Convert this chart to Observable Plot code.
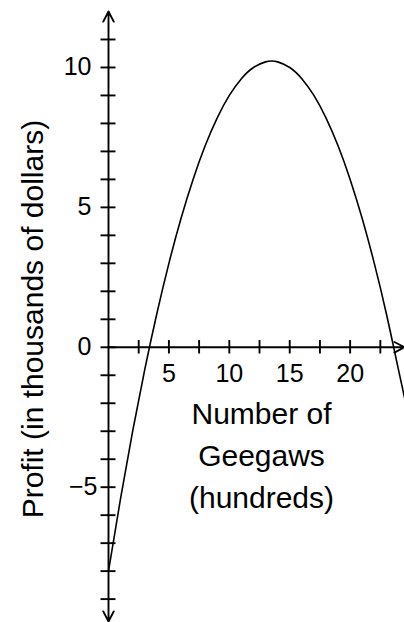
<!DOCTYPE html>
<html>
<head>
<meta charset="utf-8">
<script src="https://cdn.jsdelivr.net/npm/d3@7"></script>
<script src="https://cdn.jsdelivr.net/npm/@observablehq/plot@0.6"></script>
<style>
  html, body { margin: 0; padding: 0; background: #fff; }
  #chart svg { display: block; }
</style>
</head>
<body>
<div id="chart"></div>
<script>
// Profit (thousands of dollars) versus geegaws sold (hundreds)
const geegaws = [0, 1, 2, 3, 4, 5, 6, 7, 8, 9, 10, 11, 12, 13, 13.5, 14, 15, 16, 17, 18, 19, 20, 21, 22, 23, 24, 24.5];
const profit  = [-8.0, -5.4, -3.0, -0.8, 1.2, 3.0, 4.6, 6.0, 7.2, 8.2, 9.0, 9.6, 10.0, 10.2, 10.23, 10.2, 10.0, 9.6, 9.0, 8.2, 7.2, 6.0, 4.6, 3.0, 1.2, -0.8, -1.8];

// axis extents and tick positions
const xAxisEnd = 24.5;
const yAxisMin = -9.8;
const yAxisMax = 12;
const xTicks = [2.5, 5, 7.5, 10, 12.5, 15, 17.5, 20, 22.5];
const yTicks = [-9, -8, -7, -6, -5, -4, -3, -2, -1, 0, 1, 2, 3, 4, 5, 6, 7, 8, 9, 10, 11];
const xTickLabels = [5, 10, 15, 20];
const yTickLabels = [10, 5, 0, -5];
const xTitle = "Number of\nGeegaws\n(hundreds)";
const yTitle = "Profit (in thousands of dollars)";

const curve = geegaws.map((x, i) => ({x, y: profit[i]}));
const arrows = [
  {x1: 0, y1: 0, x2: xAxisEnd, y2: 0},
  {x1: 0, y1: 0, x2: 0, y2: yAxisMax},
  {x1: 0, y1: 0, x2: 0, y2: yAxisMin}
];
const fmt = d => d < 0 ? "\u2212" + Math.abs(d) : String(d);
const font = "'Liberation Sans', Arial, sans-serif";

// tick half-lengths expressed in the other axis' units (~7px)
const xTickHalf = 0.24;
const yTickHalf = 0.62;

const chart = Plot.plot({
  width: 404,
  height: 622,
  marginLeft: 108,
  marginRight: 0,
  marginTop: 11,
  marginBottom: 1,
  style: {background: "#fff", fontFamily: font, overflow: "visible"},
  x: {domain: [0, xAxisEnd], axis: null},
  y: {domain: [yAxisMin, yAxisMax], axis: null},
  marks: [
    Plot.arrow(arrows, {x1: "x1", y1: "y1", x2: "x2", y2: "y2", stroke: "#000", strokeWidth: 1.9, headLength: 9, headAngle: 55}),
    Plot.ruleX(xTicks, {x: d => d, y1: -xTickHalf, y2: xTickHalf, stroke: "#000", strokeWidth: 1.9}),
    Plot.ruleY(yTicks, {y: d => d, x1: -yTickHalf, x2: yTickHalf, stroke: "#000", strokeWidth: 1.9}),
    Plot.line(curve, {x: "x", y: "y", curve: "natural", stroke: "#000", strokeWidth: 1.6}),
    Plot.text(xTickLabels, {x: d => d, y: 0, text: fmt, lineAnchor: "top", dy: 16.5, fontSize: 25, fill: "#000"}),
    Plot.text(yTickLabels.filter(d => d >= 0), {x: 0, y: d => d, text: fmt, textAnchor: "end", dx: -17, fontSize: 25, fill: "#000"}),
    Plot.text(yTickLabels.filter(d => d < 0), {x: 0, y: d => d, text: fmt, textAnchor: "end", dx: -11, fontSize: 25, fill: "#000"}),
    Plot.text([xTitle], {frameAnchor: "top", text: d => d, lineAnchor: "top", lineHeight: 1.4, dx: 5, dy: 383, fontSize: 30, fill: "#000"}),
    Plot.text([yTitle], {frameAnchor: "left", text: d => d, rotate: -90, textAnchor: "middle", dx: -75.5, dy: 2.6, fontSize: 30, fill: "#000"})
  ]
});

document.getElementById("chart").append(chart);
</script>
</body>
</html>
